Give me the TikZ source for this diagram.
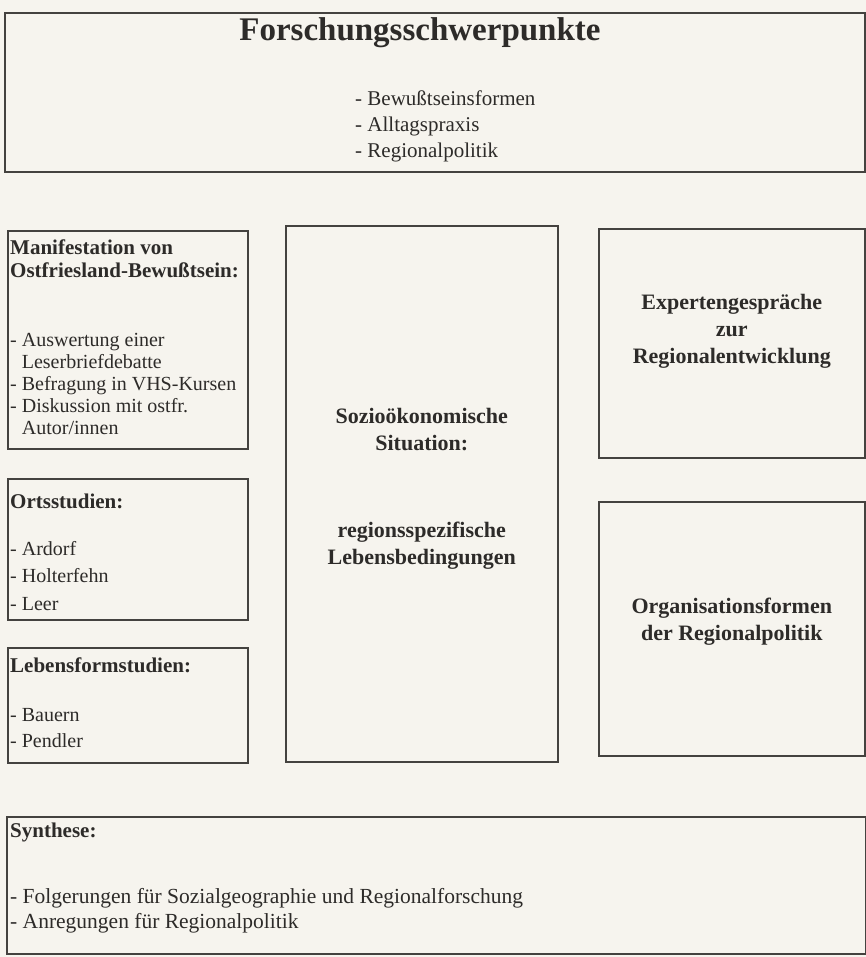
\documentclass[tikz,border=0pt]{standalone}
\usepackage{fontspec}
\setmainfont{Liberation Serif}
\usepackage{xcolor}
\usetikzlibrary{positioning}

\definecolor{paper}{RGB}{246,244,238}
\definecolor{ink}{RGB}{45,43,41}
\definecolor{frame}{RGB}{68,66,63}

\begin{document}
\begin{tikzpicture}[
    x=1pt, y=-1pt,
    box/.style={rectangle, draw=frame, line width=1.6pt, inner sep=0pt, anchor=north west},
    headline/.style={font=\fontsize{33}{38}\selectfont\bfseries, text=ink, inner sep=0pt},
    head/.style={font=\fontsize{21}{23}\selectfont\bfseries, text=ink, inner sep=0pt, align=left, anchor=north west},
    items/.style={font=\fontsize{20}{22}\selectfont, text=ink, inner sep=0pt, align=left, anchor=north west},
    topic/.style={font=\fontsize{22}{27}\selectfont\bfseries, text=ink, inner sep=0pt, align=center}
]

\path[use as bounding box, fill=paper] (0,0) rectangle (866,957);

% frames
\node[box, minimum width=860pt, minimum height=159pt] (focus) at (4,12) {};
\node[box, minimum width=240pt, minimum height=218pt] (manif) at (7,230) {};
\node[box, minimum width=240pt, minimum height=141pt] (orte) at (7,478) {};
\node[box, minimum width=240pt, minimum height=115pt] (lebens) at (7,647) {};
\node[box, minimum width=272pt, minimum height=536pt] (sozio) at (285,225) {};
\node[box, minimum width=266pt, minimum height=229pt] (experten) at (598,228) {};
\node[box, minimum width=266pt, minimum height=254pt] (organ) at (598,501) {};
\node[box, minimum width=859pt, minimum height=137pt] (synthese) at (6,816) {};

% Forschungsschwerpunkte
\node[headline] (focustitle) at (420,33) {Forschungsschwerpunkte};
\node[items, font=\fontsize{21}{26}\selectfont] (focuslist) at (355,91)
    {- Bewußtseinsformen\\- Alltagspraxis\\- Regionalpolitik};

% left column
\node[head, below right=10pt and 3pt of manif.north west] (manifhead)
    {Manifestation von\\Ostfriesland-Bewußtsein:};
\node[items, below right=103pt and 3pt of manif.north west] (maniflist)
    {- Auswertung einer\\\phantom{- }Leserbriefdebatte\\- Befragung in VHS-Kursen\\- Diskussion mit ostfr.\\\phantom{- }Autor/innen};

\node[head, below right=16pt and 3pt of orte.north west] (ortehead) {Ortsstudien:};
\node[items, font=\fontsize{20}{27.5}\selectfont, below right=63pt and 3pt of orte.north west] (ortelist)
    {- Ardorf\\- Holterfehn\\- Leer};

\node[head, below right=11pt and 3pt of lebens.north west] (lebenshead) {Lebensformstudien:};
\node[items, font=\fontsize{20}{26}\selectfont, below right=61pt and 3pt of lebens.north west] (lebenslist)
    {- Bauern\\- Pendler};

% middle and right column
\node[topic] (soziotext) at ([yshift=5pt]sozio.center)
    {Sozioökonomische\\Situation:\\[60pt]regionsspezifische\\Lebensbedingungen};
\node[topic] (expertentext) at ([yshift=12pt]experten.center)
    {Expertengespräche\\zur\\Regionalentwicklung};
\node[topic] (organtext) at ([yshift=7pt]organ.center)
    {Organisationsformen\\der Regionalpolitik};

% Synthese
\node[head, below right=7pt and 4pt of synthese.north west] (synthesehead) {Synthese:};
\node[items, font=\fontsize{21.5}{25}\selectfont, below right=72pt and 4pt of synthese.north west] (syntheselist)
    {- Folgerungen für Sozialgeographie und Regionalforschung\\- Anregungen für Regionalpolitik};

\end{tikzpicture}
\end{document}
